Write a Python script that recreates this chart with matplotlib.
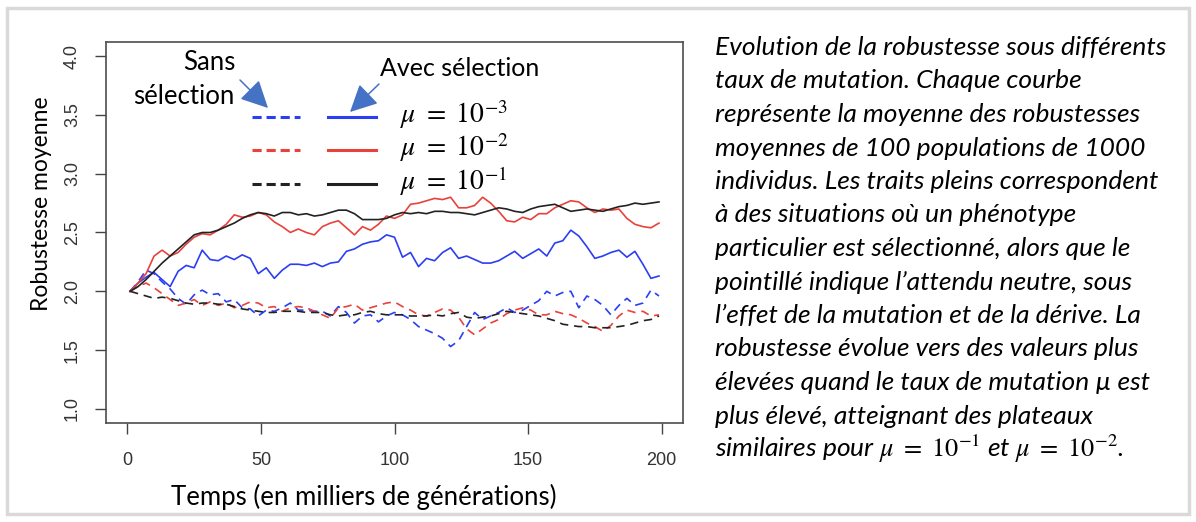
import matplotlib
matplotlib.use("Agg")
import matplotlib.pyplot as plt
import numpy as np
from matplotlib.lines import Line2D
from matplotlib.patches import Rectangle, FancyArrowPatch

plt.rcParams['mathtext.fontset'] = 'stix'

# Temps (en milliers de générations)
temps = np.arange(1, 200, 3)

# Avec sélection (traits pleins)
noir_sel = [2.00, 2.04, 2.10, 2.17, 2.24, 2.30, 2.36, 2.42, 2.48, 2.50, 2.50, 2.52, 2.55, 2.58, 2.62, 2.65, 2.67,
            2.66, 2.64, 2.67, 2.67, 2.65, 2.66, 2.64, 2.65, 2.67, 2.69, 2.69, 2.66, 2.61, 2.61, 2.61, 2.62, 2.65,
            2.67, 2.66, 2.67, 2.66, 2.68, 2.68, 2.67, 2.67, 2.66, 2.65, 2.67, 2.69, 2.71, 2.70, 2.68, 2.67, 2.70,
            2.72, 2.73, 2.74, 2.71, 2.68, 2.69, 2.70, 2.69, 2.68, 2.70, 2.72, 2.73, 2.75, 2.74, 2.75, 2.76]
rouge_sel = [2.00, 2.07, 2.15, 2.30, 2.35, 2.30, 2.33, 2.40, 2.46, 2.49, 2.48, 2.52, 2.57, 2.65, 2.63, 2.64, 2.67,
             2.65, 2.59, 2.55, 2.50, 2.53, 2.50, 2.48, 2.55, 2.58, 2.60, 2.54, 2.48, 2.55, 2.52, 2.57, 2.64, 2.62,
             2.65, 2.74, 2.75, 2.77, 2.79, 2.78, 2.80, 2.71, 2.71, 2.73, 2.80, 2.75, 2.68, 2.60, 2.59, 2.63, 2.61,
             2.66, 2.66, 2.71, 2.74, 2.77, 2.76, 2.71, 2.67, 2.70, 2.69, 2.70, 2.62, 2.57, 2.55, 2.54, 2.58]
bleu_sel = [2.00, 2.07, 2.12, 2.16, 2.10, 2.04, 2.17, 2.22, 2.20, 2.35, 2.27, 2.26, 2.30, 2.27, 2.31, 2.28, 2.15,
            2.20, 2.11, 2.18, 2.23, 2.23, 2.22, 2.24, 2.21, 2.24, 2.25, 2.34, 2.36, 2.40, 2.42, 2.43, 2.48, 2.46,
            2.29, 2.33, 2.21, 2.28, 2.26, 2.33, 2.37, 2.28, 2.30, 2.27, 2.24, 2.24, 2.26, 2.30, 2.34, 2.28, 2.32,
            2.36, 2.30, 2.41, 2.43, 2.52, 2.47, 2.38, 2.28, 2.30, 2.33, 2.35, 2.29, 2.34, 2.23, 2.11, 2.13]

# Sans sélection (pointillés)
noir_neutre = [2.00, 1.98, 1.96, 1.94, 1.95, 1.94, 1.92, 1.90, 1.89, 1.90, 1.90, 1.89, 1.89, 1.87, 1.85, 1.84, 1.83,
               1.82, 1.82, 1.83, 1.83, 1.83, 1.82, 1.82, 1.82, 1.80, 1.79, 1.80, 1.80, 1.82, 1.83, 1.81, 1.80, 1.80,
               1.80, 1.79, 1.79, 1.79, 1.80, 1.79, 1.81, 1.82, 1.78, 1.77, 1.78, 1.79, 1.81, 1.83, 1.82, 1.81, 1.80,
               1.79, 1.77, 1.75, 1.72, 1.71, 1.70, 1.70, 1.69, 1.69, 1.69, 1.70, 1.71, 1.73, 1.75, 1.76, 1.79]
rouge_neutre = [2.00, 2.04, 2.07, 2.03, 1.98, 1.93, 1.88, 1.90, 1.93, 1.88, 1.91, 1.88, 1.90, 1.86, 1.88, 1.91, 1.90,
                1.86, 1.87, 1.83, 1.86, 1.87, 1.86, 1.83, 1.80, 1.77, 1.86, 1.87, 1.89, 1.84, 1.86, 1.88, 1.90, 1.91,
                1.87, 1.84, 1.80, 1.79, 1.82, 1.85, 1.84, 1.78, 1.68, 1.63, 1.68, 1.73, 1.76, 1.81, 1.84, 1.86, 1.84,
                1.80, 1.80, 1.83, 1.81, 1.80, 1.77, 1.73, 1.70, 1.66, 1.71, 1.79, 1.84, 1.82, 1.83, 1.79, 1.80]
bleu_neutre = [2.00, 2.08, 2.18, 2.15, 2.08, 2.02, 1.94, 1.89, 1.97, 2.01, 1.97, 1.98, 1.91, 1.93, 1.86, 1.85, 1.79,
               1.84, 1.83, 1.86, 1.90, 1.84, 1.84, 1.83, 1.83, 1.79, 1.87, 1.82, 1.73, 1.79, 1.80, 1.74, 1.79, 1.82,
               1.80, 1.76, 1.70, 1.67, 1.64, 1.60, 1.53, 1.58, 1.70, 1.82, 1.76, 1.79, 1.82, 1.86, 1.82, 1.84, 1.88,
               1.92, 2.00, 1.96, 1.99, 2.00, 1.86, 1.96, 1.93, 1.88, 1.80, 1.88, 1.94, 1.88, 1.90, 2.01, 1.96]

legende_mu = [r"$\mu\ =\ 10^{-3}$", r"$\mu\ =\ 10^{-2}$", r"$\mu\ =\ 10^{-1}$"]

legende_texte = [
    "Evolution de la robustesse sous différents",
    "taux de mutation. Chaque courbe",
    "représente la moyenne des robustesses",
    "moyennes de 100 populations de 1000",
    "individus. Les traits pleins correspondent",
    "à des situations où un phénotype",
    "particulier est sélectionné, alors que le",
    "pointillé indique l’attendu neutre, sous",
    "l’effet de la mutation et de la dérive. La",
    "robustesse évolue vers des valeurs plus",
    "élevées quand le taux de mutation µ est",
    "plus élevé, atteignant des plateaux",
    r"similaires pour $\mu\ =\ 10^{-1}$ et $\mu\ =\ 10^{-2}$.",
]

BLEU = '#2b3ef2'
ROUGE = '#e8423b'
NOIR = '#222222'
FLECHE = '#4472c4'
POLICE = 'Lato'

W, H = 1196, 522

def fx(x):
    return x / W

def fy(y):
    return 1 - y / H

fig = plt.figure(figsize=(W / 100, H / 100), dpi=100)
fig.add_artist(Rectangle((fx(7), fy(514)), fx(1189) - fx(7), fy(8) - fy(514),
                         transform=fig.transFigure, fill=False, ec='#d9d9d9', lw=2.5))

ax = fig.add_axes([fx(106), fy(423), fx(683) - fx(106), fy(42) - fy(423)])

tirets = (5, 3.5)
for y, c in [(bleu_neutre, BLEU), (rouge_neutre, ROUGE), (noir_neutre, NOIR)]:
    ax.plot(temps, y, color=c, lw=1.2, dashes=tirets)
for y, c in [(bleu_sel, BLEU), (rouge_sel, ROUGE), (noir_sel, NOIR)]:
    ax.plot(temps, y, color=c, lw=1.2)

ax.set_xlim(-8, 208)
ax.set_ylim(0.88, 4.12)
ax.set_xticks([0, 50, 100, 150, 200])
ax.set_yticks(np.arange(1.0, 4.01, 0.5))
ax.set_yticklabels([f"{v:.1f}" for v in np.arange(1.0, 4.01, 0.5)], rotation=90, va='center')
for lab in ax.get_xticklabels() + ax.get_yticklabels():
    lab.set_family(['Liberation Sans', 'DejaVu Sans'])
ax.tick_params(axis='both', direction='out', length=8, width=1, colors='#444444',
               labelcolor='#333333', labelsize=13)
ax.tick_params(axis='x', pad=13)
ax.tick_params(axis='y', pad=10)
for s in ax.spines.values():
    s.set_color('#4d4d4d')
    s.set_linewidth(1.2)

fig.text(fx(364), fy(497), "Temps (en milliers de générations)", ha='center', va='center',
         family=POLICE, fontsize=18.5)
fig.text(fx(42), fy(204), "Robustesse moyenne", ha='center', va='center', rotation=90,
         family=POLICE, fontsize=16.5)

# légende manuelle
for yy, c, lab in zip([117, 150, 184], [BLEU, ROUGE, NOIR], legende_mu):
    fig.add_artist(Line2D([fx(252), fx(300)], [fy(yy), fy(yy)], transform=fig.transFigure,
                          color=c, lw=2.2, dashes=(3, 1.6)))
    fig.add_artist(Line2D([fx(328), fx(376)], [fy(yy), fy(yy)], transform=fig.transFigure,
                          color=c, lw=2.2))
    fig.text(fx(400), fy(yy + 6), lab, ha='left', va='baseline', fontsize=20)

fig.text(fx(209), fy(63), "Sans", ha='center', va='center', family=POLICE, fontsize=18.5)
fig.text(fx(234), fy(97), "sélection", ha='right', va='center', family=POLICE, fontsize=18.5)
fig.text(fx(460), fy(68), "Avec sélection", ha='center', va='center', family=POLICE, fontsize=18)

for a, b in [((240, 80), (268, 108)), ((379, 84), (350, 112))]:
    fig.add_artist(FancyArrowPatch((fx(a[0]), fy(a[1])), (fx(b[0]), fy(b[1])),
                                   transform=fig.transFigure, color=FLECHE, lw=1.1,
                                   arrowstyle='-|>,head_length=0.8,head_width=0.4',
                                   mutation_scale=21, shrinkA=0, shrinkB=0))

for i, ligne in enumerate(legende_texte):
    fig.text(fx(715), fy(55 + 33.5 * i), ligne, ha='left', va='baseline',
             family=POLICE, style='italic', fontsize=19)

fig.savefig("out.png", dpi=100)
